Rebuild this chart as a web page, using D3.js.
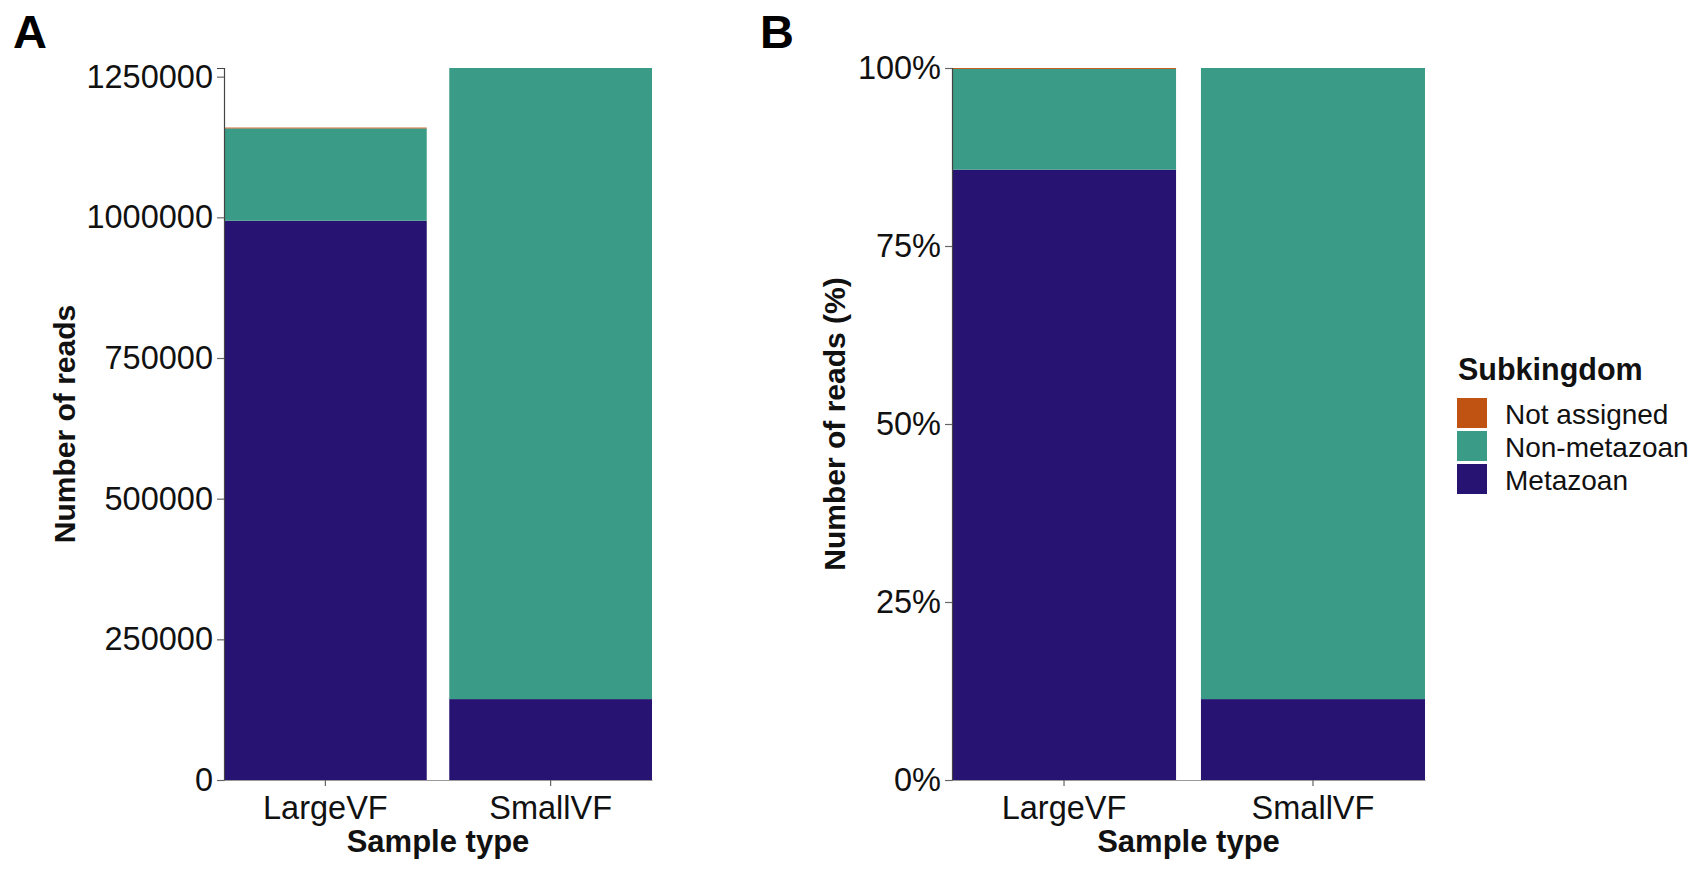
<!DOCTYPE html>
<html>
<head>
<meta charset="utf-8">
<script src="https://cdn.jsdelivr.net/npm/d3@7"></script>
<style>
  html, body { margin: 0; padding: 0; background: #fff; }
  svg { display: block; font-family: "Liberation Sans", Arial, Helvetica, sans-serif; }
</style>
</head>
<body>
<svg id="chart" width="1704" height="869"></svg>
<script>
// Read counts per sample type, split by subkingdom
const categories = ["LargeVF", "SmallVF"];
const metazoan = [994000, 143800];
const nonMetazoan = [164000, 1121600];
const notAssigned = [1500, 0];

const subkingdoms = ["Metazoan", "Non-metazoan", "Not assigned"];   // stacking order, bottom to top
const legendOrder = ["Not assigned", "Non-metazoan", "Metazoan"];
const colors = {
  "Metazoan": "#261372",
  "Non-metazoan": "#3a9b86",
  "Not assigned": "#c05212"
};

const countTicks = [0, 250000, 500000, 750000, 1000000, 1250000];
const percentTicks = [0, 0.25, 0.5, 0.75, 1];

const rows = categories.map((c, i) => ({
  sample: c,
  "Metazoan": metazoan[i],
  "Non-metazoan": nonMetazoan[i],
  "Not assigned": notAssigned[i]
}));
const totals = rows.map(r => subkingdoms.reduce((s, k) => s + r[k], 0));
const propRows = rows.map((r, i) => {
  const o = { sample: r.sample };
  subkingdoms.forEach(k => { o[k] = r[k] / totals[i]; });
  return o;
});

const svg = d3.select("#chart");
const stack = d3.stack().keys(subkingdoms);

function drawPanel(opts) {
  const { left, right, top, bottom, data, yDomain, ticks, tickFmt, yTitle, yTitleX, tag, tagX } = opts;

  const x = d3.scaleBand().domain(categories).range([left, right])
    .paddingInner(0.1).paddingOuter(0);
  const y = d3.scaleLinear().domain(yDomain).range([bottom, top]);

  const g = svg.append("g");

  // stacked bars
  const series = stack(data);
  g.selectAll("g.layer").data(series).join("g")
    .attr("class", "layer")
    .attr("fill", d => colors[d.key])
    .selectAll("rect").data(d => d).join("rect")
      .attr("x", d => x(d.data.sample))
      .attr("width", x.bandwidth())
      .attr("y", d => y(d[1]))
      .attr("height", d => Math.max(0, y(d[0]) - y(d[1])));

  // y axis
  const yAxis = g.append("g")
    .attr("transform", `translate(${left},0)`)
    .call(d3.axisLeft(y).tickValues(ticks).tickFormat(tickFmt).tickSize(7).tickPadding(4));
  yAxis.select(".domain").attr("stroke", "#444").attr("stroke-width", 1.2);
  yAxis.selectAll(".tick line").attr("stroke", "#666").attr("stroke-width", 1.2);
  yAxis.selectAll(".tick text")
    .attr("fill", "#111")
    .style("font-size", "32.5px");

  // x axis
  const xAxis = g.append("g")
    .attr("transform", `translate(0,${bottom})`)
    .call(d3.axisBottom(x).tickSize(6).tickPadding(10).tickSizeOuter(0));
  xAxis.select(".domain").attr("stroke", "#999").attr("stroke-width", 1.2);
  xAxis.selectAll(".tick line").attr("stroke", "#666").attr("stroke-width", 1.2);
  xAxis.selectAll(".tick text")
    .attr("fill", "#111")
    .style("font-size", "32.5px");

  // axis titles
  g.append("text")
    .attr("x", (left + right) / 2)
    .attr("y", 852)
    .attr("text-anchor", "middle")
    .style("font-size", "31px")
    .style("font-weight", "bold")
    .attr("fill", "#111")
    .text("Sample type");

  g.append("text")
    .attr("transform", `translate(${yTitleX},${(top + bottom) / 2}) rotate(-90)`)
    .attr("text-anchor", "middle")
    .style("font-size", "30px")
    .style("font-weight", "bold")
    .attr("fill", "#111")
    .text(yTitle);

  // panel tag
  svg.append("text")
    .attr("x", tagX)
    .attr("y", 48)
    .style("font-size", "47px")
    .style("font-weight", "bold")
    .attr("fill", "#000")
    .text(tag);
}

// Panel A: absolute read counts
drawPanel({
  left: 224, right: 652, top: 68, bottom: 780,
  data: rows,
  yDomain: [0, d3.max(totals)],
  ticks: countTicks,
  tickFmt: d3.format("d"),
  yTitle: "Number of reads",
  yTitleX: 75,
  tag: "A", tagX: 13
});

// Panel B: relative read counts
drawPanel({
  left: 952, right: 1425, top: 68, bottom: 780,
  data: propRows,
  yDomain: [0, 1],
  ticks: percentTicks,
  tickFmt: d3.format(".0%"),
  yTitle: "Number of reads (%)",
  yTitleX: 845,
  tag: "B", tagX: 760
});

// Legend
const legend = svg.append("g").attr("transform", "translate(1457,0)");
legend.append("text")
  .attr("x", 1).attr("y", 380)
  .style("font-size", "30.5px")
  .style("font-weight", "bold")
  .attr("fill", "#111")
  .text("Subkingdom");

const items = legend.selectAll("g.item").data(legendOrder).join("g")
  .attr("class", "item")
  .attr("transform", (d, i) => `translate(0,${398 + i * 33})`);
items.append("rect")
  .attr("width", 30).attr("height", 30)
  .attr("fill", d => colors[d]);
items.append("text")
  .attr("x", 48).attr("y", 26)
  .style("font-size", "28px")
  .attr("fill", "#111")
  .text(d => d);
</script>
</body>
</html>
